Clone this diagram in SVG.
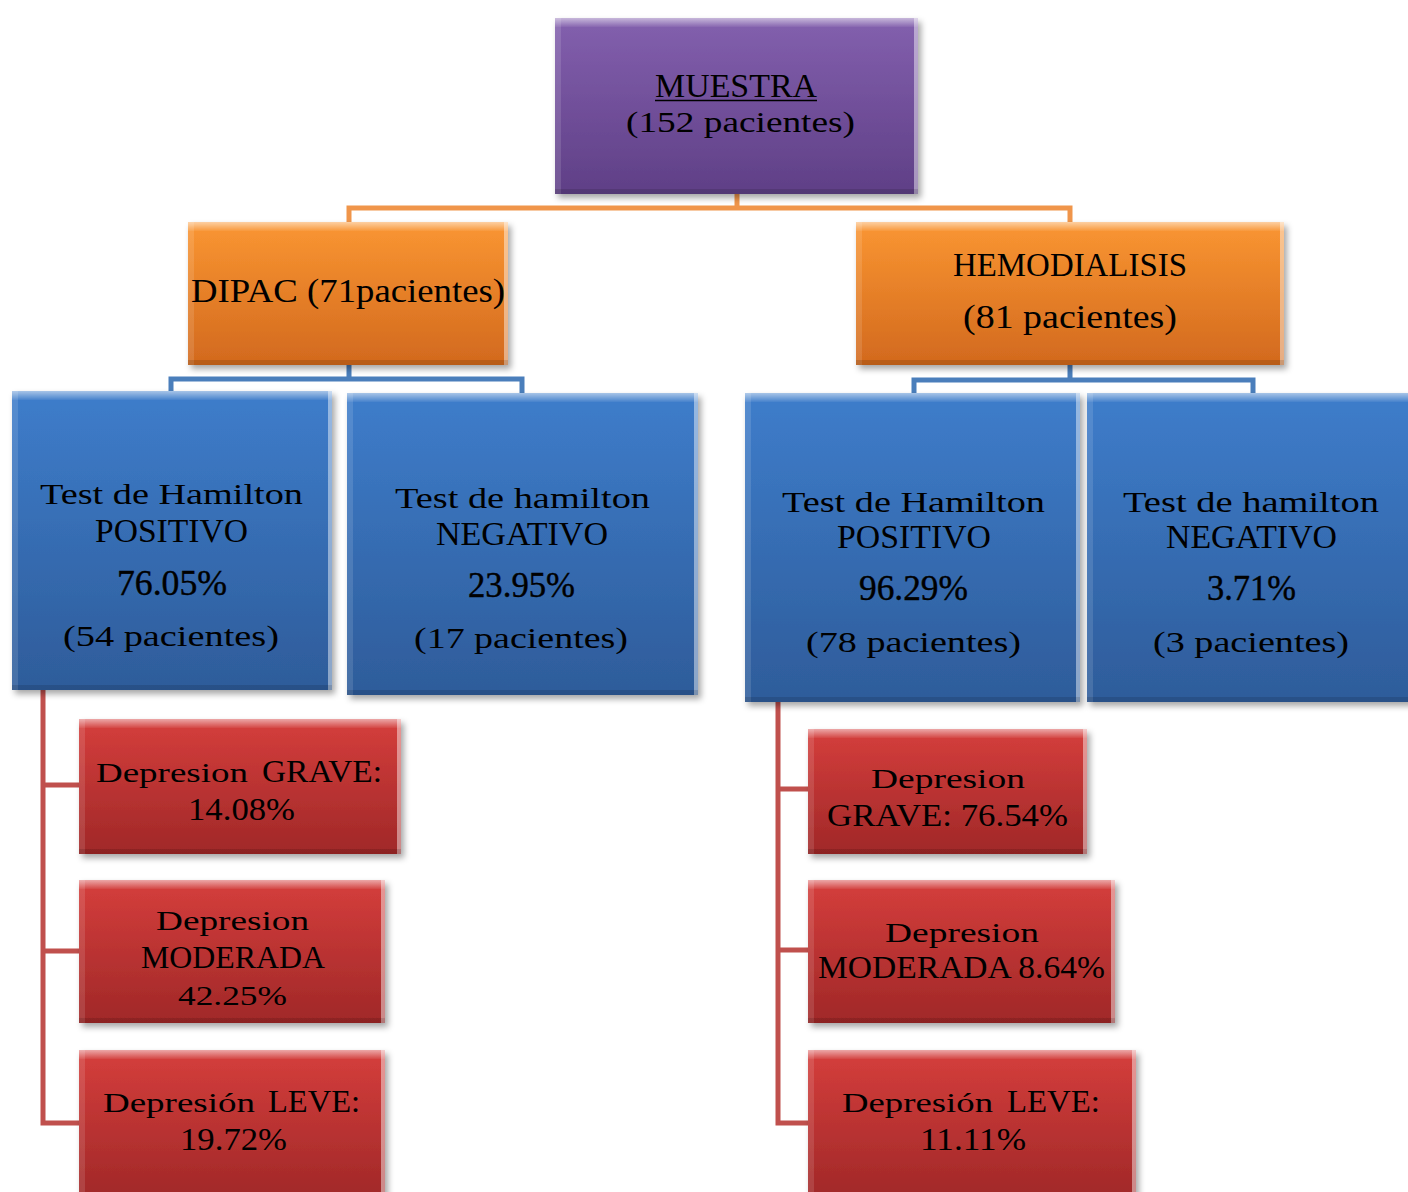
<svg xmlns="http://www.w3.org/2000/svg" width="1408" height="1192" viewBox="0 0 1408 1192">
<defs>
<linearGradient id="gP" x1="0" y1="0" x2="0" y2="1"><stop offset="0" stop-color="#8360AE"/><stop offset="1" stop-color="#5F3F86"/></linearGradient>
<linearGradient id="gO" x1="0" y1="0" x2="0" y2="1"><stop offset="0" stop-color="#FA9632"/><stop offset="1" stop-color="#D2691E"/></linearGradient>
<linearGradient id="gB" x1="0" y1="0" x2="0" y2="1"><stop offset="0" stop-color="#3E7DCB"/><stop offset="1" stop-color="#2E5C9A"/></linearGradient>
<linearGradient id="gR" x1="0" y1="0" x2="0" y2="1"><stop offset="0" stop-color="#D53E3C"/><stop offset="1" stop-color="#A02828"/></linearGradient>
<linearGradient id="hi" x1="0" y1="0" x2="0" y2="1"><stop offset="0" stop-color="#fff" stop-opacity="0.55"/><stop offset="1" stop-color="#fff" stop-opacity="0.05"/></linearGradient>
<filter id="sh" x="-10%" y="-10%" width="120%" height="120%"><feDropShadow dx="3" dy="4" stdDeviation="3" flood-color="#000" flood-opacity="0.35"/></filter>
</defs>
<style>
.tm{font-family:"Liberation Serif","Times New Roman",serif;font-size:34px;fill:#000}
.pc{font-size:35px;stroke:#000;stroke-width:0.4}
.bt{font-family:"Liberation Serif","Times New Roman",serif;font-size:30px;fill:#000}
.rt{font-size:31px}
.rb{font-size:28px}
.top{fill:url(#hi)}
.rh{fill:#fff;opacity:0.45}
.bs{fill:#000;opacity:0.12}
.lh{fill:#fff;opacity:0.12}
.con path{fill:none;stroke-width:5}
</style>
<rect width="1408" height="1192" fill="#fff"/>
<g id="connectors" class="con">
<path d="M737,194 V208 M349,222 V208 H1070 V222" stroke="#F0954A"/>
<path d="M349,365 V379 M171,391 V379 H522 V393" stroke="#4A7EBB"/>
<path d="M1070,365 V380 M914,393 V380 H1253 V393" stroke="#4A7EBB"/>
<path d="M43,690 V1123 H79 M43,785 H79 M43,951 H79" stroke="#C0504D"/>
<path d="M778,702 V1123 H808 M778,789 H808 M778,950 H808" stroke="#C0504D"/>
</g>
<g id="muestra">
<rect x="555" y="18" width="363" height="176" fill="url(#gP)" filter="url(#sh)"/>
<rect x="555" y="18" width="363" height="9" class="top"/><rect x="555" y="18" width="6" height="176" class="lh"/><rect x="914" y="18" width="4" height="176" class="rh"/><rect x="555" y="189" width="363" height="5" class="bs"/>
<text class="tm" x="655" y="97" textLength="162" lengthAdjust="spacingAndGlyphs">MUESTRA</text>
<line x1="655" y1="100.5" x2="817" y2="100.5" stroke="#000" stroke-width="1.5"/>
<text class="bt" x="626" y="132" textLength="229" lengthAdjust="spacingAndGlyphs">(152 pacientes)</text>
</g>
<g id="dipac">
<rect x="188" y="222" width="320" height="143" fill="url(#gO)" filter="url(#sh)"/>
<rect x="188" y="222" width="320" height="9" class="top"/><rect x="188" y="222" width="6" height="143" class="lh"/><rect x="504" y="222" width="4" height="143" class="rh"/><rect x="188" y="360" width="320" height="5" class="bs"/>
<text class="tm" x="191" y="302" textLength="314" lengthAdjust="spacingAndGlyphs">DIPAC (71pacientes)</text>
</g>
<g id="hemodialisis">
<rect x="856" y="222" width="428" height="143" fill="url(#gO)" filter="url(#sh)"/>
<rect x="856" y="222" width="428" height="9" class="top"/><rect x="856" y="222" width="6" height="143" class="lh"/><rect x="1280" y="222" width="4" height="143" class="rh"/><rect x="856" y="360" width="428" height="5" class="bs"/>
<text class="tm" x="953" y="276" textLength="234" lengthAdjust="spacingAndGlyphs">HEMODIALISIS</text>
<text class="tm" x="963" y="328" textLength="214" lengthAdjust="spacingAndGlyphs">(81 pacientes)</text>
</g>
<g id="dipac-positivo">
<rect x="12" y="391" width="320" height="299" fill="url(#gB)" filter="url(#sh)"/>
<rect x="12" y="391" width="320" height="9" class="top"/><rect x="12" y="391" width="6" height="299" class="lh"/><rect x="328" y="391" width="4" height="299" class="rh"/><rect x="12" y="685" width="320" height="5" class="bs"/>
<text class="bt" x="40" y="504" textLength="263" lengthAdjust="spacingAndGlyphs">Test de Hamilton</text>
<text class="tm" x="95" y="542" textLength="153" lengthAdjust="spacingAndGlyphs">POSITIVO</text>
<text class="tm pc" x="117" y="595" textLength="110" lengthAdjust="spacingAndGlyphs">76.05%</text>
<text class="bt" x="63" y="646" textLength="216" lengthAdjust="spacingAndGlyphs">(54 pacientes)</text>
</g>
<g id="dipac-negativo">
<rect x="347" y="393" width="351" height="302" fill="url(#gB)" filter="url(#sh)"/>
<rect x="347" y="393" width="351" height="9" class="top"/><rect x="347" y="393" width="6" height="302" class="lh"/><rect x="694" y="393" width="4" height="302" class="rh"/><rect x="347" y="690" width="351" height="5" class="bs"/>
<text class="bt" x="395" y="508" textLength="255" lengthAdjust="spacingAndGlyphs">Test de hamilton</text>
<text class="tm" x="436" y="545" textLength="172" lengthAdjust="spacingAndGlyphs">NEGATIVO</text>
<text class="tm pc" x="468" y="597" textLength="107" lengthAdjust="spacingAndGlyphs">23.95%</text>
<text class="bt" x="414" y="648" textLength="214" lengthAdjust="spacingAndGlyphs">(17 pacientes)</text>
</g>
<g id="hemo-positivo">
<rect x="745" y="393" width="335" height="309" fill="url(#gB)" filter="url(#sh)"/>
<rect x="745" y="393" width="335" height="9" class="top"/><rect x="745" y="393" width="6" height="309" class="lh"/><rect x="1076" y="393" width="4" height="309" class="rh"/><rect x="745" y="697" width="335" height="5" class="bs"/>
<text class="bt" x="782" y="512" textLength="263" lengthAdjust="spacingAndGlyphs">Test de Hamilton</text>
<text class="tm" x="837" y="548" textLength="154" lengthAdjust="spacingAndGlyphs">POSITIVO</text>
<text class="tm pc" x="859" y="600" textLength="109" lengthAdjust="spacingAndGlyphs">96.29%</text>
<text class="bt" x="806" y="652" textLength="215" lengthAdjust="spacingAndGlyphs">(78 pacientes)</text>
</g>
<g id="hemo-negativo">
<rect x="1087" y="393" width="330" height="309" fill="url(#gB)" filter="url(#sh)"/>
<rect x="1087" y="393" width="330" height="9" class="top"/><rect x="1087" y="393" width="6" height="309" class="lh"/><rect x="1087" y="697" width="330" height="5" class="bs"/>
<text class="bt" x="1123" y="512" textLength="256" lengthAdjust="spacingAndGlyphs">Test de hamilton</text>
<text class="tm" x="1166" y="548" textLength="171" lengthAdjust="spacingAndGlyphs">NEGATIVO</text>
<text class="tm pc" x="1207" y="600" textLength="89" lengthAdjust="spacingAndGlyphs">3.71%</text>
<text class="bt" x="1153" y="652" textLength="196" lengthAdjust="spacingAndGlyphs">(3 pacientes)</text>
</g>
<g id="dipac-grave">
<rect x="79" y="719" width="322" height="135" fill="url(#gR)" filter="url(#sh)"/>
<rect x="79" y="719" width="322" height="9" class="top"/><rect x="79" y="719" width="6" height="135" class="lh"/><rect x="397" y="719" width="4" height="135" class="rh"/><rect x="79" y="849" width="322" height="5" class="bs"/>
<text class="bt rb" x="96" y="782" textLength="152" lengthAdjust="spacingAndGlyphs">Depresion</text>
<text class="tm rt" x="262" y="782" textLength="120" lengthAdjust="spacingAndGlyphs">GRAVE:</text>
<text class="tm rt" x="188" y="820" textLength="107" lengthAdjust="spacingAndGlyphs">14.08%</text>
</g>
<g id="dipac-moderada">
<rect x="79" y="880" width="306" height="143" fill="url(#gR)" filter="url(#sh)"/>
<rect x="79" y="880" width="306" height="9" class="top"/><rect x="79" y="880" width="6" height="143" class="lh"/><rect x="381" y="880" width="4" height="143" class="rh"/><rect x="79" y="1018" width="306" height="5" class="bs"/>
<text class="bt rb" x="156" y="930" textLength="153" lengthAdjust="spacingAndGlyphs">Depresion</text>
<text class="tm rt" x="141" y="968" textLength="184" lengthAdjust="spacingAndGlyphs">MODERADA</text>
<text class="bt rb" x="178" y="1005" textLength="109" lengthAdjust="spacingAndGlyphs">42.25%</text>
</g>
<g id="dipac-leve">
<rect x="79" y="1050" width="306" height="150" fill="url(#gR)" filter="url(#sh)"/>
<rect x="79" y="1050" width="306" height="9" class="top"/><rect x="79" y="1050" width="6" height="150" class="lh"/><rect x="381" y="1050" width="4" height="150" class="rh"/>
<text class="bt rb" x="103" y="1112" textLength="152" lengthAdjust="spacingAndGlyphs">Depresión</text>
<text class="tm rt" x="268" y="1112" textLength="92" lengthAdjust="spacingAndGlyphs">LEVE:</text>
<text class="tm rt" x="180" y="1150" textLength="107" lengthAdjust="spacingAndGlyphs">19.72%</text>
</g>
<g id="hemo-grave">
<rect x="808" y="729" width="279" height="125" fill="url(#gR)" filter="url(#sh)"/>
<rect x="808" y="729" width="279" height="9" class="top"/><rect x="808" y="729" width="6" height="125" class="lh"/><rect x="1083" y="729" width="4" height="125" class="rh"/><rect x="808" y="849" width="279" height="5" class="bs"/>
<text class="bt rb" x="871" y="788" textLength="154" lengthAdjust="spacingAndGlyphs">Depresion</text>
<text class="tm rt" x="827" y="826" textLength="241" lengthAdjust="spacingAndGlyphs">GRAVE: 76.54%</text>
</g>
<g id="hemo-moderada">
<rect x="808" y="880" width="307" height="143" fill="url(#gR)" filter="url(#sh)"/>
<rect x="808" y="880" width="307" height="9" class="top"/><rect x="808" y="880" width="6" height="143" class="lh"/><rect x="1111" y="880" width="4" height="143" class="rh"/><rect x="808" y="1018" width="307" height="5" class="bs"/>
<text class="bt rb" x="885" y="942" textLength="154" lengthAdjust="spacingAndGlyphs">Depresion</text>
<text class="tm rt" x="818" y="978" textLength="287" lengthAdjust="spacingAndGlyphs">MODERADA 8.64%</text>
</g>
<g id="hemo-leve">
<rect x="808" y="1050" width="328" height="150" fill="url(#gR)" filter="url(#sh)"/>
<rect x="808" y="1050" width="328" height="9" class="top"/><rect x="808" y="1050" width="6" height="150" class="lh"/><rect x="1132" y="1050" width="4" height="150" class="rh"/>
<text class="bt rb" x="842" y="1112" textLength="151" lengthAdjust="spacingAndGlyphs">Depresión</text>
<text class="tm rt" x="1007" y="1112" textLength="93" lengthAdjust="spacingAndGlyphs">LEVE:</text>
<text class="tm rt" x="920" y="1150" textLength="106" lengthAdjust="spacingAndGlyphs">11.11%</text>
</g>
</svg>
